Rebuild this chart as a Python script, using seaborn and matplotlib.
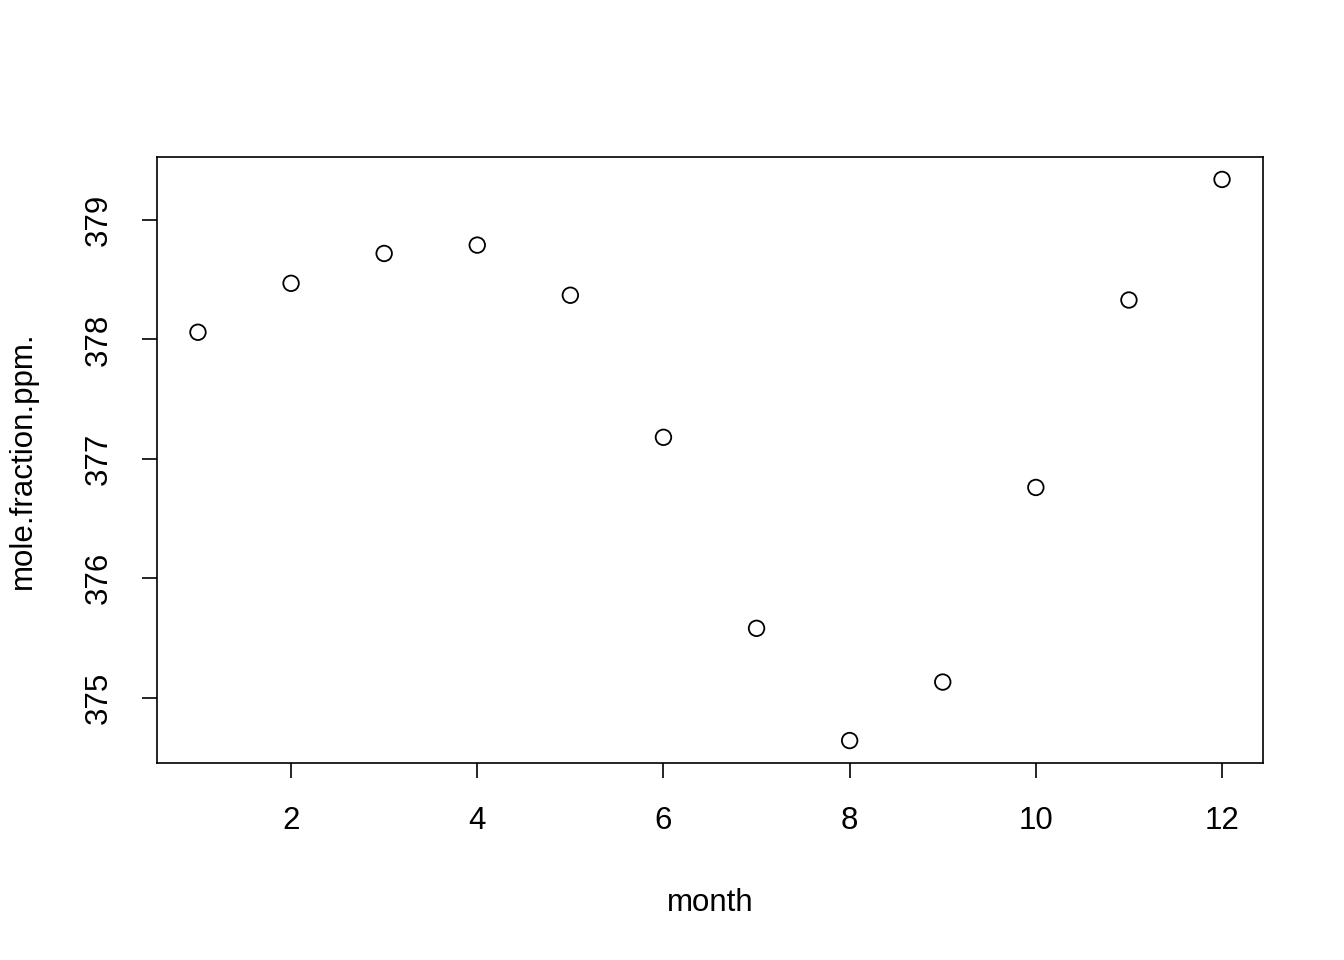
import matplotlib
matplotlib.use("Agg")
import matplotlib.pyplot as plt
import seaborn as sns
import pandas as pd

month = [1, 2, 3, 4, 5, 6, 7, 8, 9, 10, 11, 12]
ppm = [378.06, 378.47, 378.72, 378.79, 378.37, 377.18, 375.58, 374.64, 375.13, 376.76, 378.33, 379.34]
xticks = [2, 4, 6, 8, 10, 12]
yticks = [375, 376, 377, 378, 379]

df = pd.DataFrame({"month": month, "mole.fraction.ppm.": ppm})

sns.set_theme(style="white")
plt.rcParams['font.family'] = ['Liberation Sans', 'DejaVu Sans']
plt.rcParams['text.color'] = 'black'
plt.rcParams['axes.labelcolor'] = 'black'
plt.rcParams['xtick.color'] = 'black'
plt.rcParams['ytick.color'] = 'black'

fs = 22.5
fig = plt.figure(figsize=(13.44, 9.6), dpi=100)
ax = fig.add_axes([157/1344, 1-763/960, (1263-157)/1344, (763-157)/960])

sns.scatterplot(data=df, x="month", y="mole.fraction.ppm.", ax=ax,
                s=125, facecolor="none", edgecolor="black", linewidth=1.3, marker="o")

xr = max(month) - min(month)
ax.set_xlim(min(month) - 0.04*xr, max(month) + 0.04*xr)
yr = max(ppm) - min(ppm)
ax.set_ylim(min(ppm) - 0.04*yr, max(ppm) + 0.04*yr)

ax.set_xticks(xticks)
ax.set_yticks(yticks)
ax.set_xticklabels([str(t) for t in xticks], fontsize=fs)
ax.set_yticklabels([str(t) for t in yticks], fontsize=fs, rotation=90, va="center")
ax.tick_params(axis="both", direction="out", length=11, width=1.2, colors="black",
               bottom=True, left=True, pad=20)
for s in ax.spines.values():
    s.set_visible(True)
    s.set_color("black")
    s.set_linewidth(1.2)

ax.set_xlabel("month", fontsize=fs, color="black")
ax.set_ylabel("mole.fraction.ppm.", fontsize=fs, color="black")
ax.xaxis.set_label_coords(0.5, -(888-763)/606)
ax.yaxis.set_label_coords(-(157-38)/1106, 0.5)
ax.grid(False)

fig.savefig("out.png", dpi=100, facecolor="white")
